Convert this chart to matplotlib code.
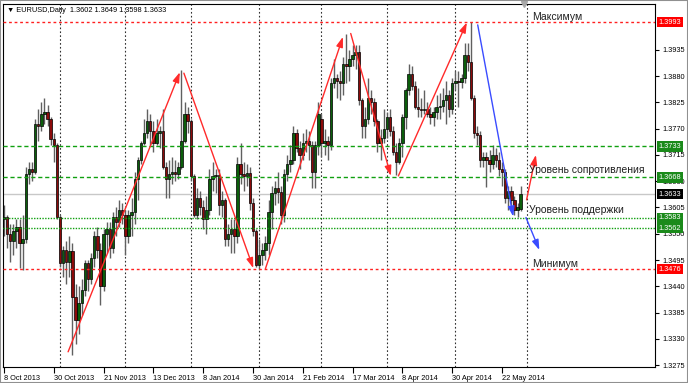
import matplotlib.pyplot as plt
import matplotlib.transforms as mtransforms
from matplotlib.patches import Rectangle

# EURUSD daily, 8 Oct 2013 .. 30 May 2014 (one entry per bar)
opens = [
    1.3580, 1.3585, 1.3550, 1.3535, 1.3555, 1.3565, 1.3530, 1.3540, 1.3675, 1.3685,
    1.3680, 1.3780, 1.3775, 1.3800, 1.3805, 1.3790, 1.3748, 1.3735, 1.3586, 1.3488,
    1.3515, 1.3490, 1.3513, 1.3418, 1.3370, 1.3405, 1.3432, 1.3488, 1.3455, 1.3500,
    1.3545, 1.3515, 1.3440, 1.3550, 1.3560, 1.3520, 1.3585, 1.3575, 1.3600, 1.3590,
    1.3545, 1.3590, 1.3595, 1.3665, 1.3705, 1.3740, 1.3760, 1.3785, 1.3765, 1.3740,
    1.3760, 1.3765, 1.3690, 1.3665, 1.3675, 1.3680, 1.3675, 1.3690, 1.3745, 1.3800,
    1.3785, 1.3670, 1.3590, 1.3625, 1.3605, 1.3580, 1.3600, 1.3665, 1.3670, 1.3672,
    1.3610, 1.3620, 1.3540, 1.3550, 1.3560, 1.3545, 1.3695, 1.3675, 1.3670, 1.3678,
    1.3615, 1.3555, 1.3485, 1.3505, 1.3515, 1.3530, 1.3595, 1.3635, 1.3645, 1.3637,
    1.3590, 1.3675, 1.3695, 1.3705, 1.3760, 1.3730, 1.3715, 1.3740, 1.3745, 1.3735,
    1.3680, 1.3735, 1.3790, 1.3740, 1.3745, 1.3735, 1.3865, 1.3875, 1.3870, 1.3865,
    1.3905, 1.3900, 1.3915, 1.3925, 1.3930, 1.3830, 1.3775, 1.3790, 1.3835, 1.3825,
    1.3785, 1.3740, 1.3750, 1.3770, 1.3795, 1.3765, 1.3720, 1.3700, 1.3740, 1.3795,
    1.3850, 1.3885, 1.3860, 1.3815, 1.3812, 1.3808, 1.3812, 1.3800, 1.3795, 1.3805,
    1.3815, 1.3818, 1.3830, 1.3840, 1.3810, 1.3865, 1.3870, 1.3868, 1.3875, 1.3925,
    1.3910, 1.3835, 1.3760, 1.3757, 1.3705, 1.3710, 1.3705, 1.3695, 1.3715, 1.3705,
    1.3685, 1.3680, 1.3625, 1.3640, 1.3620, 1.3600, 1.3602,
]
highs = [
    1.3610, 1.3590, 1.3570, 1.3570, 1.3580, 1.3580, 1.3590, 1.3690, 1.3700, 1.3700,
    1.3790, 1.3810, 1.3825, 1.3833, 1.3820, 1.3795, 1.3760, 1.3740, 1.3590, 1.3525,
    1.3535, 1.3545, 1.3530, 1.3445, 1.3440, 1.3455, 1.3495, 1.3495, 1.3510, 1.3555,
    1.3565, 1.3530, 1.3560, 1.3575, 1.3575, 1.3595, 1.3605, 1.3620, 1.3615, 1.3600,
    1.3600, 1.3625, 1.3680, 1.3710, 1.3745, 1.3790, 1.3810, 1.3800, 1.3785, 1.3790,
    1.3775, 1.3810, 1.3700, 1.3705, 1.3710, 1.3705, 1.3700, 1.3893, 1.3825, 1.3815,
    1.3790, 1.3675, 1.3645, 1.3640, 1.3620, 1.3630, 1.3685, 1.3700, 1.3685, 1.3685,
    1.3640, 1.3625, 1.3570, 1.3580, 1.3580, 1.3710, 1.3740, 1.3700, 1.3695, 1.3690,
    1.3625, 1.3560, 1.3540, 1.3530, 1.3545, 1.3620, 1.3650, 1.3660, 1.3680, 1.3650,
    1.3685, 1.3715, 1.3735, 1.3775, 1.3770, 1.3745, 1.3760, 1.3770, 1.3765, 1.3745,
    1.3745, 1.3825, 1.3800, 1.3770, 1.3755, 1.3875, 1.3915, 1.3885, 1.3890, 1.3920,
    1.3967, 1.3935, 1.3945, 1.3945, 1.3945, 1.3835, 1.3815, 1.3875, 1.3850, 1.3835,
    1.3790, 1.3770, 1.3810, 1.3805, 1.3810, 1.3775, 1.3740, 1.3750, 1.3800, 1.3855,
    1.3905, 1.3900, 1.3870, 1.3855, 1.3835, 1.3850, 1.3825, 1.3815, 1.3815, 1.3840,
    1.3845, 1.3855, 1.3870, 1.3850, 1.3875, 1.3890, 1.3890, 1.3885, 1.3950, 1.3950,
    1.3993, 1.3840, 1.3775, 1.3765, 1.3720, 1.3720, 1.3725, 1.3735, 1.3730, 1.3720,
    1.3700, 1.3685, 1.3650, 1.3650, 1.3630, 1.3615, 1.3649,
]
lows = [
    1.3545, 1.3520, 1.3490, 1.3505, 1.3520, 1.3478, 1.3475, 1.3530, 1.3655, 1.3660,
    1.3675, 1.3745, 1.3765, 1.3780, 1.3775, 1.3735, 1.3700, 1.3580, 1.3480, 1.3460,
    1.3445, 1.3460, 1.3296, 1.3320, 1.3340, 1.3380, 1.3420, 1.3430, 1.3445, 1.3480,
    1.3500, 1.3400, 1.3430, 1.3510, 1.3500, 1.3510, 1.3545, 1.3565, 1.3570, 1.3505,
    1.3530, 1.3545, 1.3570, 1.3620, 1.3695, 1.3735, 1.3750, 1.3735, 1.3720, 1.3735,
    1.3730, 1.3685, 1.3625, 1.3625, 1.3655, 1.3660, 1.3665, 1.3685, 1.3740, 1.3760,
    1.3660, 1.3585, 1.3580, 1.3590, 1.3560, 1.3550, 1.3590, 1.3640, 1.3635, 1.3590,
    1.3585, 1.3525, 1.3525, 1.3510, 1.3510, 1.3530, 1.3655, 1.3640, 1.3650, 1.3600,
    1.3545, 1.3480, 1.3477, 1.3485, 1.3495, 1.3505, 1.3560, 1.3610, 1.3615, 1.3570,
    1.3575, 1.3660, 1.3680, 1.3695, 1.3720, 1.3685, 1.3705, 1.3720, 1.3705, 1.3645,
    1.3645, 1.3715, 1.3710, 1.3715, 1.3705, 1.3725, 1.3855, 1.3835, 1.3830, 1.3840,
    1.3865, 1.3870, 1.3900, 1.3895, 1.3820, 1.3750, 1.3750, 1.3780, 1.3800, 1.3775,
    1.3720, 1.3705, 1.3740, 1.3750, 1.3755, 1.3715, 1.3672, 1.3695, 1.3710, 1.3770,
    1.3840, 1.3850, 1.3810, 1.3795, 1.3795, 1.3800, 1.3795, 1.3780, 1.3775, 1.3790,
    1.3790, 1.3805, 1.3780, 1.3795, 1.3800, 1.3850, 1.3815, 1.3855, 1.3865, 1.3890,
    1.3830, 1.3750, 1.3735, 1.3690, 1.3690, 1.3648, 1.3680, 1.3685, 1.3690, 1.3670,
    1.3650, 1.3615, 1.3600, 1.3610, 1.3590, 1.3586, 1.3598,
]
closes = [
    1.3585, 1.3550, 1.3535, 1.3555, 1.3565, 1.3530, 1.3540, 1.3675, 1.3685, 1.3680,
    1.3780, 1.3775, 1.3800, 1.3805, 1.3790, 1.3748, 1.3735, 1.3586, 1.3488, 1.3515,
    1.3490, 1.3513, 1.3418, 1.3370, 1.3405, 1.3432, 1.3488, 1.3455, 1.3500, 1.3545,
    1.3515, 1.3440, 1.3550, 1.3560, 1.3520, 1.3585, 1.3575, 1.3600, 1.3590, 1.3545,
    1.3590, 1.3595, 1.3665, 1.3705, 1.3740, 1.3760, 1.3785, 1.3765, 1.3740, 1.3760,
    1.3765, 1.3690, 1.3665, 1.3675, 1.3680, 1.3675, 1.3690, 1.3745, 1.3800, 1.3785,
    1.3670, 1.3590, 1.3625, 1.3605, 1.3580, 1.3600, 1.3665, 1.3670, 1.3672, 1.3610,
    1.3620, 1.3540, 1.3550, 1.3560, 1.3545, 1.3695, 1.3675, 1.3670, 1.3678, 1.3615,
    1.3555, 1.3485, 1.3505, 1.3515, 1.3530, 1.3595, 1.3635, 1.3645, 1.3637, 1.3590,
    1.3675, 1.3695, 1.3705, 1.3760, 1.3730, 1.3715, 1.3740, 1.3745, 1.3735, 1.3680,
    1.3735, 1.3800, 1.3740, 1.3745, 1.3735, 1.3865, 1.3875, 1.3870, 1.3865, 1.3905,
    1.3900, 1.3915, 1.3925, 1.3930, 1.3830, 1.3775, 1.3790, 1.3835, 1.3825, 1.3785,
    1.3740, 1.3750, 1.3770, 1.3795, 1.3765, 1.3720, 1.3700, 1.3740, 1.3795, 1.3850,
    1.3885, 1.3860, 1.3815, 1.3812, 1.3808, 1.3812, 1.3800, 1.3795, 1.3805, 1.3815,
    1.3818, 1.3830, 1.3840, 1.3810, 1.3865, 1.3870, 1.3868, 1.3875, 1.3925, 1.3910,
    1.3835, 1.3760, 1.3757, 1.3705, 1.3710, 1.3705, 1.3695, 1.3715, 1.3705, 1.3685,
    1.3680, 1.3625, 1.3640, 1.3620, 1.3600, 1.3605, 1.3633,
]

date_ticks = [0, 16, 32, 48, 64, 80, 96, 112, 128, 144, 160]
date_labels = ['8 Oct 2013', '30 Oct 2013', '21 Nov 2013', '13 Dec 2013', '8 Jan 2014',
               '30 Jan 2014', '21 Feb 2014', '17 Mar 2014', '8 Apr 2014', '30 Apr 2014',
               '22 May 2014']
month_starts = [18, 39, 60, 82, 102, 123, 145, 168]
price_ticks = [1.3275, 1.3330, 1.3385, 1.3440, 1.3495, 1.3550, 1.3605, 1.3660,
               1.3715, 1.3770, 1.3825, 1.3880, 1.3935]

level_prices = [1.3993, 1.3733, 1.3668, 1.3583, 1.3562, 1.3476]
level_kinds = ['red', 'green', 'green', 'green_dot', 'green_dot', 'red']
last_price = 1.3633

# (bar from, price from, bar to, price to, colour)
arrows = [
    (20.6, 1.3303, 56.5, 1.3888, 'red'),
    (57.8, 1.3886, 80.1, 1.3478, 'red'),
    (84.0, 1.3477, 108.9, 1.3962, 'red'),
    (111.4, 1.3969, 124.3, 1.3671, 'red'),
    (126.7, 1.3671, 148.7, 1.3992, 'red'),
    (152.2, 1.3987, 163.6, 1.3586, 'blue'),
    (167.7, 1.3584, 172.0, 1.3516, 'blue'),
    (167.9, 1.3621, 170.9, 1.3715, 'red'),
]
notes = [
    ('Максимум', 169.8, 1.39972),
    ('Уровень сопротивления', 168.8, 1.36771),
    ('Уровень поддержки', 168.8, 1.35934),
    ('Минимум', 169.7, 1.34811),
]

small = ['Liberation Sans', 'DejaVu Sans']
plt.rcParams['font.family'] = small

fig = plt.figure(figsize=(6.88, 3.83), dpi=100)
ax = fig.add_axes([3 / 688, 16 / 383, 652 / 688, 363 / 383])
ax.set_xlim(-0.32, 209.16)
ax.set_ylim(1.32712, 1.40307)

for m in month_starts:
    ax.axvline(m, color='#303030', lw=0.8, ls=(0, (1.5, 2)), zorder=1)

ax.axhline(last_price, color='#c8c8c8', lw=1, zorder=1)

xs = list(range(len(closes)))
ax.vlines(xs, lows, highs, color='#606060', lw=1, zorder=2)
for i in xs:
    o, c = opens[i], closes[i]
    col = '#0b5e0b' if c >= o else '#8c0a0a'
    h = abs(c - o)
    if h < 0.00008:
        h = 0.00008
    ax.bar(i, h, bottom=min(o, c), width=0.78, color=col, edgecolor='black',
           linewidth=0.5, zorder=3)

styles = {'red': ('#ff2020', (0, (2, 2))),
          'green': ('#10a010', (0, (3, 2))),
          'green_dot': ('#10a010', (0, (1, 1)))}
for p, k in zip(level_prices, level_kinds):
    col, ls = styles[k]
    ax.axhline(p, color=col, lw=1, ls=ls, zorder=4)

arrow_cols = {'red': '#ff2a2a', 'blue': '#3a4cff'}
for x0, y0, x1, y1, k in arrows:
    ax.annotate('', xy=(x1, y1), xytext=(x0, y0),
                arrowprops=dict(arrowstyle='-|>,head_length=0.6,head_width=0.2',
                                color=arrow_cols[k], lw=1, shrinkA=0, shrinkB=0,
                                mutation_scale=10), zorder=5)

for txt, x, y in notes:
    ax.text(x, y, txt, fontsize=7.5, color='#202020', va='baseline', ha='left', zorder=6)

ax.text(0.006, 0.983, '▼ EURUSD,Daily  1.3602 1.3649 1.3598 1.3633', transform=ax.transAxes,
        fontsize=5.3, va='center', ha='left', color='black')

ax.plot([167], [1.40307], marker='v', color='#a8a8a8', ms=4, clip_on=False, zorder=6)

ax.yaxis.tick_right()
ax.set_yticks(price_ticks, ['%.4f' % p for p in price_ticks])
ax.tick_params(axis='y', direction='out', length=3, width=0.8, labelsize=5.3, pad=2)
ax.set_xticks(date_ticks, date_labels)
ax.tick_params(axis='x', direction='out', length=4, width=0.8, labelsize=5.3, pad=2)
for lab in ax.get_xticklabels():
    lab.set_ha('left')

box_tr = mtransforms.blended_transform_factory(ax.transAxes, ax.transData)
box_cols = {'red': '#ff0000', 'green': '#1a8a1a', 'green_dot': '#1a8a1a'}
for p, k in zip(level_prices, level_kinds):
    ax.text(1.006, p, '%.4f' % p, transform=box_tr, fontsize=5.3, color='white',
            va='center', ha='left', clip_on=False, zorder=7,
            bbox=dict(boxstyle='square,pad=0.25', fc=box_cols[k], ec='none'))
ax.text(1.006, last_price, '%.4f' % last_price, transform=box_tr, fontsize=5.3,
        color='white', va='center', ha='left', clip_on=False, zorder=7,
        bbox=dict(boxstyle='square,pad=0.25', fc='black', ec='none'))

for s in ax.spines.values():
    s.set_color('black')
    s.set_linewidth(0.8)

fig.patches.append(Rectangle((0, 0), 1, 1, transform=fig.transFigure, fill=False,
                             ec='#909090', lw=1.5))

fig.savefig('out.png', dpi=100)
